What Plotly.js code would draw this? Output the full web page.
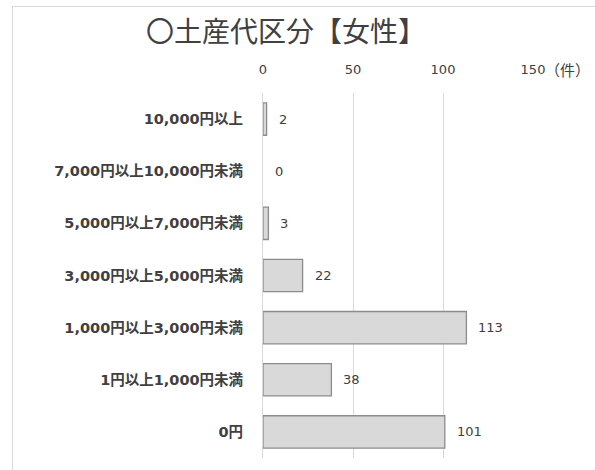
<!DOCTYPE html>
<html><head><meta charset="utf-8">
<script src="https://cdn.plot.ly/plotly-3.0.1.min.js"></script>
<style>
html,body{margin:0;padding:0;background:#fff;}
#wrap{position:relative;width:595px;height:470px;overflow:hidden;}
#frame{position:absolute;left:12px;top:6px;width:600px;height:480px;border-left:1px solid #d9d9d9;border-top:1px solid #d9d9d9;}
#chart{position:absolute;left:0;top:0;width:595px;height:470px;}
</style></head>
<body><div id="wrap"><div id="frame"></div><div id="chart"></div></div>
<script>
const categories = ["10,000円以上","7,000円以上10,000円未満","5,000円以上7,000円未満","3,000円以上5,000円未満","1,000円以上3,000円未満","1円以上1,000円未満","0円"];
const counts = [2,0,3,22,113,38,101];
const tickVals = [0,50,100,150];
const unitLabel = "（件）";
const titleText = "〇土産代区分【女性】";

const font = "'DejaVu Sans', 'Noto Sans CJK JP', sans-serif";
const cjk = "'Noto Sans CJK JP', sans-serif";
const trace = {
  type:'bar', orientation:'h', x:counts, y:categories,
  marker:{color:'#d9d9d9', line:{color:'#8c8c8c', width:counts.map(v=>v>0?1.3:0)}},
  hoverinfo:'skip'
};
const annotations = counts.map((v,i)=>({
  x:v, y:categories[i], xref:'x', yref:'y', text:String(v), showarrow:false,
  xanchor:'left', xshift:10, font:{family:font, size:13, color:'#404040'}
}));
annotations.push({x:150, y:1, xref:'x', yref:'paper', yanchor:'middle', xanchor:'left', xshift:10, yshift:24,
  text:unitLabel, showarrow:false, font:{family:cjk, size:15, color:'#404040'}});
const layout = {
  width:595, height:470,
  margin:{l:263, r:62, t:93, b:12},
  paper_bgcolor:'rgba(0,0,0,0)', plot_bgcolor:'rgba(0,0,0,0)',
  title:{text:titleText, x:146/595, xanchor:'left', xref:'container', y:1-32/470, yanchor:'middle', yref:'container',
    font:{family:cjk, size:28, color:'#404040'}},
  bargap:0.38,
  showlegend:false,
  xaxis:{side:'top', range:[0,150], tickvals:tickVals, showgrid:true, gridcolor:'#d9d9d9', gridwidth:1,
    zeroline:false, showline:false, ticks:'', ticklabelstandoff:15,
    tickfont:{family:font, size:13, color:'#404040'}, fixedrange:true},
  yaxis:{autorange:'reversed', showgrid:false, zeroline:false, showline:true, linecolor:'#d9d9d9', linewidth:1,
    ticks:'', ticklabelstandoff:16,
    tickfont:{family:font, size:14.5, color:'#404040', weight:'bold'}, fixedrange:true},
  annotations:annotations
};
Plotly.newPlot('chart',[trace],layout,{displayModeBar:false, staticPlot:true});
</script></body></html>
